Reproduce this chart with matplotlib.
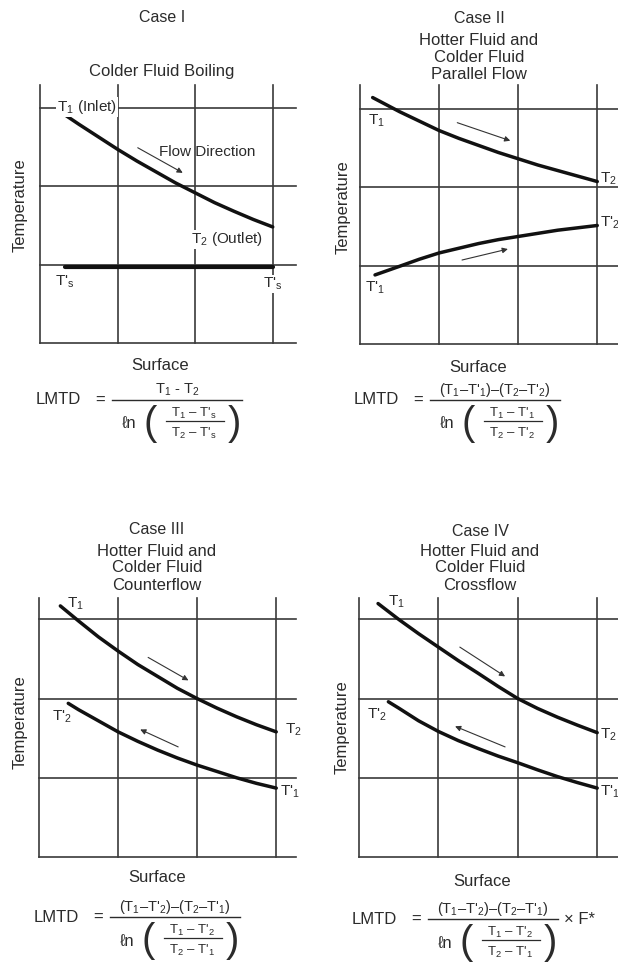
import matplotlib
matplotlib.use("Agg")
import matplotlib.pyplot as plt

plt.rcParams['font.family'] = ['Liberation Sans', 'DejaVu Sans']
plt.rcParams['mathtext.fontset'] = 'custom'
plt.rcParams['mathtext.rm'] = 'Liberation Sans'
plt.rcParams['mathtext.it'] = 'Liberation Sans'
plt.rcParams['mathtext.sf'] = 'Liberation Sans'

# grid lines of every panel (surface / temperature units)
grid_pos = [0, 1, 2, 3]

# case I - colder fluid boiling
case1_hot_x = [0.32, 0.5, 0.75, 1.0, 1.25, 1.5, 1.75, 2.0, 2.25, 2.5, 2.75, 3.0]
case1_hot_y = [2.91, 2.79, 2.63, 2.47, 2.32, 2.18, 2.04, 1.915, 1.79, 1.68, 1.575, 1.48]
case1_cold_x = [0.32, 3.0]
case1_cold_y = [0.97, 0.97]

# case II - parallel flow
case2_hot_x = [0.16, 0.5, 0.75, 1.0, 1.25, 1.5, 1.75, 2.0, 2.25, 2.5, 2.75, 3.0]
case2_hot_y = [3.14, 2.96, 2.84, 2.72, 2.62, 2.53, 2.44, 2.36, 2.28, 2.21, 2.14, 2.07]
case2_cold_x = [0.19, 0.5, 0.75, 1.0, 1.25, 1.5, 1.75, 2.0, 2.25, 2.5, 2.75, 3.0]
case2_cold_y = [0.88, 0.99, 1.08, 1.16, 1.22, 1.28, 1.33, 1.37, 1.41, 1.45, 1.48, 1.51]

# case III - counterflow
case3_hot_x = [0.27, 0.5, 0.75, 1.0, 1.25, 1.5, 1.75, 2.0, 2.25, 2.5, 2.75, 3.0]
case3_hot_y = [3.17, 2.98, 2.78, 2.60, 2.43, 2.28, 2.13, 2.00, 1.88, 1.77, 1.67, 1.58]
case3_cold_x = [0.37, 0.5, 0.75, 1.0, 1.25, 1.5, 1.75, 2.0, 2.25, 2.5, 2.75, 3.0]
case3_cold_y = [1.94, 1.86, 1.72, 1.58, 1.46, 1.35, 1.25, 1.16, 1.08, 1.00, 0.93, 0.87]

# case IV - crossflow
case4_hot_x = [0.24, 0.5, 0.75, 1.0, 1.25, 1.5, 1.75, 2.0, 2.25, 2.5, 2.75, 3.0]
case4_hot_y = [3.20, 3.00, 2.82, 2.65, 2.48, 2.32, 2.155, 2.00, 1.875, 1.765, 1.665, 1.57]
case4_cold_x = [0.37, 0.5, 0.75, 1.0, 1.25, 1.5, 1.75, 2.0, 2.25, 2.5, 2.75, 3.0]
case4_cold_y = [1.96, 1.88, 1.72, 1.585, 1.47, 1.37, 1.275, 1.19, 1.10, 1.015, 0.94, 0.87]

case_titles = ["Case I", "Case II", "Case III", "Case IV"]
case_subtitles = [["Colder Fluid Boiling"],
                  ["Hotter Fluid and", "Colder Fluid", "Parallel Flow"],
                  ["Hotter Fluid and", "Colder Fluid", "Counterflow"],
                  ["Hotter Fluid and", "Colder Fluid", "Crossflow"]]

lmtd_numerators = ["T$_1$ - T$_2$",
                   "(T$_1$–T'$_1$)–(T$_2$–T'$_2$)",
                   "(T$_1$–T'$_2$)–(T$_2$–T'$_1$)",
                   "(T$_1$–T'$_2$)–(T$_2$–T'$_1$)"]
lmtd_inner_num = ["T$_1$ – T'$_\\mathrm{s}$", "T$_1$ – T'$_1$", "T$_1$ – T'$_2$", "T$_1$ – T'$_2$"]
lmtd_inner_den = ["T$_2$ – T'$_\\mathrm{s}$", "T$_2$ – T'$_2$", "T$_2$ – T'$_1$", "T$_2$ – T'$_1$"]

W, H = 618, 969
ink = '#2b2b2b'
grid_color = '#3a3a3a'

fig = plt.figure(figsize=(W / 100, H / 100), dpi=100)
fig.patch.set_facecolor('white')

ov = fig.add_axes([0, 0, 1, 1])
ov.set_xlim(0, W)
ov.set_ylim(H, 0)
ov.axis('off')


def px_axes(left, top, right, bottom):
    return fig.add_axes([left / W, 1 - bottom / H, (right - left) / W, (bottom - top) / H])


def draw_panel(rect, xmax, ymax, hot_x, hot_y, cold_x, cold_y, arrows, labels, cold_lw=2.5):
    ax = px_axes(*rect)
    ax.set_xlim(0, xmax)
    ax.set_ylim(0, ymax)
    ax.axis('off')
    ax.patch.set_alpha(0)
    for g in grid_pos:
        ax.axvline(g, color=grid_color, lw=1.2, clip_on=False, zorder=1)
        ax.axhline(g, color=grid_color, lw=1.2, clip_on=False, zorder=1)
    ax.plot(hot_x, hot_y, color='#111111', lw=2.5, solid_capstyle='round',
            solid_joinstyle='round', zorder=3)
    ax.plot(cold_x, cold_y, color='#111111', lw=cold_lw, solid_capstyle='round',
            solid_joinstyle='round', zorder=3)
    for (x0, y0), (x1, y1) in arrows:
        ax.annotate('', xy=(x1, y1), xytext=(x0, y0),
                    arrowprops=dict(arrowstyle='-|>', lw=0.8, color='#333333',
                                    mutation_scale=8, shrinkA=0, shrinkB=0), zorder=2)
    for x, y, s, box in labels:
        t = ax.text(x, y, s, fontsize=11, color=ink, ha='left', va='center', zorder=4, clip_on=False)
        if box:
            t.set_bbox(dict(facecolor='white', edgecolor='none', pad=0.6))
    return ax


def draw_titles(cx, y_title, i, y_lines):
    ov.text(cx, y_title, case_titles[i], fontsize=11.5, color=ink, ha='center', va='center')
    for s, y in zip(case_subtitles[i], y_lines):
        ov.text(cx, y, s, fontsize=12, color=ink, ha='center', va='center')


def draw_lmtd(i, bx, by, surf_x, surf_y, extra=None):
    ov.text(surf_x, surf_y, "Surface", fontsize=12, color=ink, ha='center', va='center')
    ov.text(bx - 76, by, "LMTD", fontsize=12, color=ink, ha='left', va='center')
    ov.text(bx - 12, by, "=", fontsize=12, color=ink, ha='center', va='center')
    ov.plot([bx, bx + 130], [by, by], color=ink, lw=1.0)
    ov.text(bx + 65, by - 10, lmtd_numerators[i], fontsize=10.5, color=ink, ha='center', va='center')
    ov.text(bx + 17, by + 24, "ℓn", fontsize=12, color=ink, ha='center', va='center')
    ov.text(bx + 38, by + 24, "(", fontsize=29, color=ink, ha='center', va='center')
    ov.text(bx + 122, by + 24, ")", fontsize=29, color=ink, ha='center', va='center')
    ov.plot([bx + 54, bx + 112], [by + 21, by + 21], color=ink, lw=0.9)
    ov.text(bx + 82, by + 13, lmtd_inner_num[i], fontsize=9.5, color=ink, ha='center', va='center')
    ov.text(bx + 82, by + 33, lmtd_inner_den[i], fontsize=9.5, color=ink, ha='center', va='center')
    if extra:
        ov.text(bx + 136, by, extra, fontsize=12, color=ink, ha='left', va='center')


# case I
draw_titles(162, 17, 0, [71])
draw_panel((40, 85, 296, 343), 3.3, 3.29, case1_hot_x, case1_hot_y, case1_cold_x, case1_cold_y,
           [((1.26, 2.49), (1.84, 2.17))],
           [(0.22, 3.01, "T$_1$ (Inlet)", True),
            (1.54, 2.44, "Flow Direction", False),
            (1.95, 1.32, "T$_2$ (Outlet)", True),
            (0.19, 0.78, "T'$_\\mathrm{s}$", False),
            (2.88, 0.75, "T'$_\\mathrm{s}$", True)], cold_lw=3.0)
ov.text(20, 205, "Temperature", fontsize=12, color=ink, rotation=90, ha='center', va='center')
draw_lmtd(0, 112, 400, 160, 366)

# case II
draw_titles(479, 18, 1, [40, 57, 74])
draw_panel((360, 85, 621, 344), 3.3, 3.3, case2_hot_x, case2_hot_y, case2_cold_x, case2_cold_y,
           [((1.23, 2.82), (1.90, 2.59)), ((1.29, 1.07), (1.87, 1.21))],
           [(0.10, 2.85, "T$_1$", False),
            (3.04, 2.11, "T$_2$", False),
            (0.06, 0.71, "T'$_1$", False),
            (3.03, 1.54, "T'$_2$", False)])
ov.text(343, 207, "Temperature", fontsize=12, color=ink, rotation=90, ha='center', va='center')
draw_lmtd(1, 430, 400, 478, 368)

# case III
draw_titles(157, 530, 2, [552, 568, 585])
draw_panel((39, 598, 296, 857), 3.25, 3.27, case3_hot_x, case3_hot_y, case3_cold_x, case3_cold_y,
           [((1.38, 2.52), (1.89, 2.23)), ((1.76, 1.39), (1.28, 1.61))],
           [(0.35, 3.20, "T$_1$", False),
            (0.16, 1.77, "T'$_2$", False),
            (3.11, 1.60, "T$_2$", False),
            (3.05, 0.82, "T'$_1$", False)])
ov.text(20, 722, "Temperature", fontsize=12, color=ink, rotation=90, ha='center', va='center')
draw_lmtd(2, 110, 917, 157, 878)

# case IV
draw_titles(480, 531, 3, [552, 568, 585])
draw_panel((359, 598, 621, 857), 3.3, 3.27, case4_hot_x, case4_hot_y, case4_cold_x, case4_cold_y,
           [((1.27, 2.65), (1.84, 2.28)), ((1.84, 1.39), (1.21, 1.65))],
           [(0.37, 3.22, "T$_1$", False),
            (0.10, 1.80, "T'$_2$", False),
            (3.04, 1.54, "T$_2$", False),
            (3.03, 0.82, "T'$_1$", False)])
ov.text(342, 727, "Temperature", fontsize=12, color=ink, rotation=90, ha='center', va='center')
draw_lmtd(3, 428, 919, 482, 881, extra="× F*")

fig.savefig("out.png", dpi=100)
